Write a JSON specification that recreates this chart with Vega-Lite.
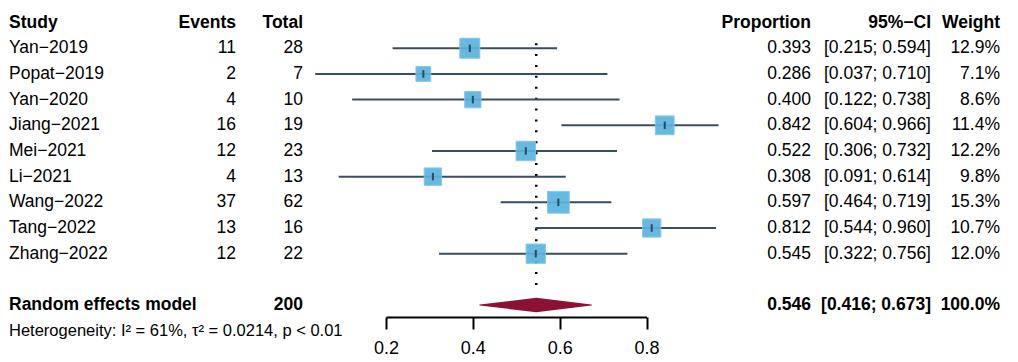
{
  "$schema": "https://vega.github.io/schema/vega-lite/v6.json",
  "width": 1018,
  "height": 317,
  "autosize": {"type": "none"},
  "padding": {"left": 0, "top": 0, "right": 0, "bottom": 45},
  "background": "white",
  "config": {
    "view": {"stroke": null},
    "font": "Liberation Sans",
    "text": {"font": "Liberation Sans", "fontSize": 17.5, "color": "black", "baseline": "middle"},
    "axis": {"grid": false, "domainColor": "black", "domainWidth": 2, "tickColor": "black", "tickWidth": 2, "tickSize": 12, "labelFont": "Liberation Sans", "labelFontSize": 18, "labelColor": "black", "labelPadding": 10, "labelFlush": false, "labelOverlap": false}
  },
  "datasets": {
    "studies": [
      {"row": 1, "study": "Yan−2019", "events": 11, "total": 28, "prop": 0.393, "lo": 0.215, "hi": 0.594, "ci": "[0.215; 0.594]", "weight": 0.129},
      {"row": 2, "study": "Popat−2019", "events": 2, "total": 7, "prop": 0.286, "lo": 0.037, "hi": 0.710, "ci": "[0.037; 0.710]", "weight": 0.071},
      {"row": 3, "study": "Yan−2020", "events": 4, "total": 10, "prop": 0.400, "lo": 0.122, "hi": 0.738, "ci": "[0.122; 0.738]", "weight": 0.086},
      {"row": 4, "study": "Jiang−2021", "events": 16, "total": 19, "prop": 0.842, "lo": 0.604, "hi": 0.966, "ci": "[0.604; 0.966]", "weight": 0.114},
      {"row": 5, "study": "Mei−2021", "events": 12, "total": 23, "prop": 0.522, "lo": 0.306, "hi": 0.732, "ci": "[0.306; 0.732]", "weight": 0.122},
      {"row": 6, "study": "Li−2021", "events": 4, "total": 13, "prop": 0.308, "lo": 0.091, "hi": 0.614, "ci": "[0.091; 0.614]", "weight": 0.098},
      {"row": 7, "study": "Wang−2022", "events": 37, "total": 62, "prop": 0.597, "lo": 0.464, "hi": 0.719, "ci": "[0.464; 0.719]", "weight": 0.153},
      {"row": 8, "study": "Tang−2022", "events": 13, "total": 16, "prop": 0.812, "lo": 0.544, "hi": 0.960, "ci": "[0.544; 0.960]", "weight": 0.107},
      {"row": 9, "study": "Zhang−2022", "events": 12, "total": 22, "prop": 0.545, "lo": 0.322, "hi": 0.756, "ci": "[0.322; 0.756]", "weight": 0.120}
    ],
    "pooled": [
      {"row": 11, "label": "Random effects model", "total": 200, "est": 0.546, "lo": 0.416, "hi": 0.673, "ci": "[0.416; 0.673]", "weight": 1.0}
    ],
    "diamond": [
      {"x": 0.416, "w": 0},
      {"x": 0.546, "w": 1},
      {"x": 0.673, "w": 0}
    ],
    "headers": [
      {"col": 1, "label": "Study"},
      {"col": 2, "label": "Events"},
      {"col": 3, "label": "Total"},
      {"col": 4, "label": "Proportion"},
      {"col": 5, "label": "95%−CI"},
      {"col": 6, "label": "Weight"}
    ],
    "het": [
      {"row": 12, "label": "Heterogeneity: I² = 61%, τ² = 0.0214, p < 0.01"}
    ]
  },
  "layer": [
    {
      "resolve": {"scale": {"size": "independent"}},
      "layer": [
        {
          "data": {"name": "pooled"},
          "mark": {"type": "rule", "color": "black", "strokeWidth": 2.5, "strokeDash": [2, 8.9]},
          "encoding": {
            "x": {"field": "est", "type": "quantitative", "scale": {"domain": [0.2, 0.8], "range": [386, 646.5], "nice": false, "zero": false}, "axis": {"values": [0.2, 0.4, 0.6, 0.8], "format": ".1f", "title": null}},
            "y": {"datum": 0.8, "type": "quantitative", "scale": {"domain": [-0.88, 11.466], "reverse": true, "nice": false, "zero": false}, "axis": null},
            "y2": {"datum": 10.53}
          }
        },
        {
          "data": {"name": "studies"},
          "mark": {"type": "rule", "color": "#3A4D63", "strokeWidth": 2},
          "encoding": {
            "x": {"field": "lo", "type": "quantitative", "scale": {"domain": [0.2, 0.8], "range": [386, 646.5], "nice": false, "zero": false}, "axis": {"values": [0.2, 0.4, 0.6, 0.8], "format": ".1f", "title": null}},
            "x2": {"field": "hi"},
            "y": {"field": "row", "type": "quantitative", "scale": {"domain": [-0.88, 11.466], "reverse": true, "nice": false, "zero": false}, "axis": null}
          }
        },
        {
          "data": {"name": "studies"},
          "mark": {"type": "point", "shape": "square", "filled": true, "color": "#5AB4DF", "opacity": 0.92, "stroke": "#7EC4E6", "strokeWidth": 1},
          "encoding": {
            "x": {"field": "prop", "type": "quantitative", "scale": {"domain": [0.2, 0.8], "range": [386, 646.5], "nice": false, "zero": false}, "axis": {"values": [0.2, 0.4, 0.6, 0.8], "format": ".1f", "title": null}},
            "y": {"field": "row", "type": "quantitative", "scale": {"domain": [-0.88, 11.466], "reverse": true, "nice": false, "zero": false}, "axis": null},
            "size": {"field": "weight", "type": "quantitative", "scale": {"domain": [0, 1], "range": [0, 3100], "zero": true}, "legend": null}
          }
        },
        {
          "data": {"name": "studies"},
          "mark": {"type": "point", "shape": "M0,-1V1", "filled": false, "stroke": "#34465C", "strokeWidth": 2, "size": 56, "opacity": 1},
          "encoding": {
            "x": {"field": "prop", "type": "quantitative", "scale": {"domain": [0.2, 0.8], "range": [386, 646.5], "nice": false, "zero": false}, "axis": {"values": [0.2, 0.4, 0.6, 0.8], "format": ".1f", "title": null}},
            "y": {"field": "row", "type": "quantitative", "scale": {"domain": [-0.88, 11.466], "reverse": true, "nice": false, "zero": false}, "axis": null}
          }
        },
        {
          "data": {"name": "diamond"},
          "mark": {"type": "trail", "color": "#8C1233"},
          "encoding": {
            "x": {"field": "x", "type": "quantitative", "scale": {"domain": [0.2, 0.8], "range": [386, 646.5], "nice": false, "zero": false}, "axis": {"values": [0.2, 0.4, 0.6, 0.8], "format": ".1f", "title": null}},
            "y": {"datum": 11, "type": "quantitative", "scale": {"domain": [-0.88, 11.466], "reverse": true, "nice": false, "zero": false}, "axis": null},
            "size": {"field": "w", "type": "quantitative", "scale": {"domain": [0, 1], "range": [0, 14.4], "zero": true}, "legend": null}
          }
        }
      ]
    },
    {
      "layer": [
        {
          "data": {"name": "headers"},
          "transform": [{"filter": "datum.col == 1"}],
          "mark": {"type": "text", "align": "left", "fontWeight": "bold"},
          "encoding": {
            "x": {"field": "col", "type": "quantitative", "scale": {"type": "linear", "domain": [1, 2, 3, 4, 5, 6], "range": [9, 236, 303, 811, 931, 1000], "nice": false, "zero": false}, "axis": null},
            "y": {"datum": 0, "type": "quantitative", "scale": {"domain": [-0.88, 11.466], "reverse": true, "nice": false, "zero": false}, "axis": null},
            "text": {"field": "label"}
          }
        },
        {
          "data": {"name": "headers"},
          "transform": [{"filter": "datum.col > 1"}],
          "mark": {"type": "text", "align": "right", "fontWeight": "bold"},
          "encoding": {
            "x": {"field": "col", "type": "quantitative", "scale": {"type": "linear", "domain": [1, 2, 3, 4, 5, 6], "range": [9, 236, 303, 811, 931, 1000], "nice": false, "zero": false}, "axis": null},
            "y": {"datum": 0, "type": "quantitative", "scale": {"domain": [-0.88, 11.466], "reverse": true, "nice": false, "zero": false}, "axis": null},
            "text": {"field": "label"}
          }
        },
        {
          "data": {"name": "studies"},
          "mark": {"type": "text", "align": "left"},
          "encoding": {
            "x": {"datum": 1, "type": "quantitative", "scale": {"type": "linear", "domain": [1, 2, 3, 4, 5, 6], "range": [9, 236, 303, 811, 931, 1000], "nice": false, "zero": false}, "axis": null},
            "y": {"field": "row", "type": "quantitative", "scale": {"domain": [-0.88, 11.466], "reverse": true, "nice": false, "zero": false}, "axis": null},
            "text": {"field": "study"}
          }
        },
        {
          "data": {"name": "studies"},
          "mark": {"type": "text", "align": "right"},
          "encoding": {
            "x": {"datum": 2, "type": "quantitative", "scale": {"type": "linear", "domain": [1, 2, 3, 4, 5, 6], "range": [9, 236, 303, 811, 931, 1000], "nice": false, "zero": false}, "axis": null},
            "y": {"field": "row", "type": "quantitative", "scale": {"domain": [-0.88, 11.466], "reverse": true, "nice": false, "zero": false}, "axis": null},
            "text": {"field": "events"}
          }
        },
        {
          "data": {"name": "studies"},
          "mark": {"type": "text", "align": "right"},
          "encoding": {
            "x": {"datum": 3, "type": "quantitative", "scale": {"type": "linear", "domain": [1, 2, 3, 4, 5, 6], "range": [9, 236, 303, 811, 931, 1000], "nice": false, "zero": false}, "axis": null},
            "y": {"field": "row", "type": "quantitative", "scale": {"domain": [-0.88, 11.466], "reverse": true, "nice": false, "zero": false}, "axis": null},
            "text": {"field": "total"}
          }
        },
        {
          "data": {"name": "studies"},
          "mark": {"type": "text", "align": "right"},
          "encoding": {
            "x": {"datum": 4, "type": "quantitative", "scale": {"type": "linear", "domain": [1, 2, 3, 4, 5, 6], "range": [9, 236, 303, 811, 931, 1000], "nice": false, "zero": false}, "axis": null},
            "y": {"field": "row", "type": "quantitative", "scale": {"domain": [-0.88, 11.466], "reverse": true, "nice": false, "zero": false}, "axis": null},
            "text": {"field": "prop", "type": "quantitative", "format": ".3f"}
          }
        },
        {
          "data": {"name": "studies"},
          "mark": {"type": "text", "align": "right"},
          "encoding": {
            "x": {"datum": 5, "type": "quantitative", "scale": {"type": "linear", "domain": [1, 2, 3, 4, 5, 6], "range": [9, 236, 303, 811, 931, 1000], "nice": false, "zero": false}, "axis": null},
            "y": {"field": "row", "type": "quantitative", "scale": {"domain": [-0.88, 11.466], "reverse": true, "nice": false, "zero": false}, "axis": null},
            "text": {"field": "ci"}
          }
        },
        {
          "data": {"name": "studies"},
          "mark": {"type": "text", "align": "right"},
          "encoding": {
            "x": {"datum": 6, "type": "quantitative", "scale": {"type": "linear", "domain": [1, 2, 3, 4, 5, 6], "range": [9, 236, 303, 811, 931, 1000], "nice": false, "zero": false}, "axis": null},
            "y": {"field": "row", "type": "quantitative", "scale": {"domain": [-0.88, 11.466], "reverse": true, "nice": false, "zero": false}, "axis": null},
            "text": {"field": "weight", "type": "quantitative", "format": ".1%"}
          }
        },
        {
          "data": {"name": "pooled"},
          "mark": {"type": "text", "align": "left", "fontWeight": "bold"},
          "encoding": {
            "x": {"datum": 1, "type": "quantitative", "scale": {"type": "linear", "domain": [1, 2, 3, 4, 5, 6], "range": [9, 236, 303, 811, 931, 1000], "nice": false, "zero": false}, "axis": null},
            "y": {"field": "row", "type": "quantitative", "scale": {"domain": [-0.88, 11.466], "reverse": true, "nice": false, "zero": false}, "axis": null},
            "text": {"field": "label"}
          }
        },
        {
          "data": {"name": "pooled"},
          "mark": {"type": "text", "align": "right", "fontWeight": "bold"},
          "encoding": {
            "x": {"datum": 3, "type": "quantitative", "scale": {"type": "linear", "domain": [1, 2, 3, 4, 5, 6], "range": [9, 236, 303, 811, 931, 1000], "nice": false, "zero": false}, "axis": null},
            "y": {"field": "row", "type": "quantitative", "scale": {"domain": [-0.88, 11.466], "reverse": true, "nice": false, "zero": false}, "axis": null},
            "text": {"field": "total"}
          }
        },
        {
          "data": {"name": "pooled"},
          "mark": {"type": "text", "align": "right", "fontWeight": "bold"},
          "encoding": {
            "x": {"datum": 4, "type": "quantitative", "scale": {"type": "linear", "domain": [1, 2, 3, 4, 5, 6], "range": [9, 236, 303, 811, 931, 1000], "nice": false, "zero": false}, "axis": null},
            "y": {"field": "row", "type": "quantitative", "scale": {"domain": [-0.88, 11.466], "reverse": true, "nice": false, "zero": false}, "axis": null},
            "text": {"field": "est", "type": "quantitative", "format": ".3f"}
          }
        },
        {
          "data": {"name": "pooled"},
          "mark": {"type": "text", "align": "right", "fontWeight": "bold"},
          "encoding": {
            "x": {"datum": 5, "type": "quantitative", "scale": {"type": "linear", "domain": [1, 2, 3, 4, 5, 6], "range": [9, 236, 303, 811, 931, 1000], "nice": false, "zero": false}, "axis": null},
            "y": {"field": "row", "type": "quantitative", "scale": {"domain": [-0.88, 11.466], "reverse": true, "nice": false, "zero": false}, "axis": null},
            "text": {"field": "ci"}
          }
        },
        {
          "data": {"name": "pooled"},
          "mark": {"type": "text", "align": "right", "fontWeight": "bold"},
          "encoding": {
            "x": {"datum": 6, "type": "quantitative", "scale": {"type": "linear", "domain": [1, 2, 3, 4, 5, 6], "range": [9, 236, 303, 811, 931, 1000], "nice": false, "zero": false}, "axis": null},
            "y": {"field": "row", "type": "quantitative", "scale": {"domain": [-0.88, 11.466], "reverse": true, "nice": false, "zero": false}, "axis": null},
            "text": {"field": "weight", "type": "quantitative", "format": ".1%"}
          }
        },
        {
          "data": {"name": "het"},
          "mark": {"type": "text", "align": "left", "fontSize": 16.5},
          "encoding": {
            "x": {"datum": 1, "type": "quantitative", "scale": {"type": "linear", "domain": [1, 2, 3, 4, 5, 6], "range": [9, 236, 303, 811, 931, 1000], "nice": false, "zero": false}, "axis": null},
            "y": {"field": "row", "type": "quantitative", "scale": {"domain": [-0.88, 11.466], "reverse": true, "nice": false, "zero": false}, "axis": null},
            "text": {"field": "label"}
          }
        }
      ]
    }
  ],
  "resolve": {"scale": {"x": "independent"}}
}
